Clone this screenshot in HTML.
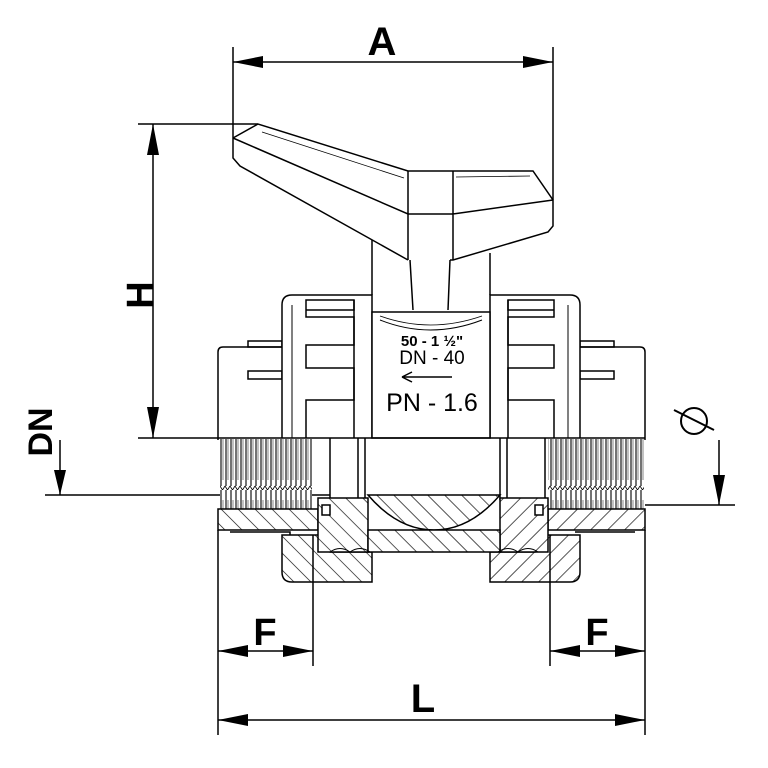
<!DOCTYPE html>
<html><head><meta charset="utf-8"><style>
html,body{margin:0;padding:0;background:#fff}
svg{display:block}
text{font-family:"Liberation Sans",sans-serif}
</style></head><body>
<svg width="768" height="768" viewBox="0 0 768 768" xmlns="http://www.w3.org/2000/svg">
<defs>
<pattern id="h" patternUnits="userSpaceOnUse" width="12" height="12" patternTransform="rotate(45)">
<rect width="12" height="12" fill="#fff"/><line x1="0" y1="0" x2="0" y2="12" stroke="#000" stroke-width="1.3"/>
</pattern>
<pattern id="h2" patternUnits="userSpaceOnUse" width="12" height="12" patternTransform="rotate(-45)">
<rect width="12" height="12" fill="#fff"/><line x1="0" y1="0" x2="0" y2="12" stroke="#000" stroke-width="1.3"/>
</pattern>
<pattern id="t" patternUnits="userSpaceOnUse" width="5" height="70">
<rect width="5" height="70" fill="#fff"/><line x1="1" y1="0" x2="1" y2="66" stroke="#000" stroke-width="1.1"/><line x1="3" y1="10" x2="3" y2="60" stroke="#666" stroke-width="0.8"/><path d="M0 66 L2.5 70 L5 66" stroke="#000" stroke-width="0.8" fill="none"/>
</pattern>
</defs>
<g fill="none" stroke="#000" stroke-width="1.5">
<!-- handle -->
<path d="M233 138 L258 124 L408 171 L533 171 L553 200 L553 226 L548 232 L453 260 L450 260 M233 138 L233 158 L240 166 L408 260" fill="#fff"/>
<path d="M233 138 L408 214 L453 214 L553 200 M408 171 L408 260 M453 171 L453 260"/>
<path d="M372 240 L372 295 M490 253 L490 295 M410 260 L413 310 M450 260 L448 310"/>
<path d="M262 132 L404 178 M456 177 L530 176" stroke-width="0.8"/>
<!-- unions -->
<path d="M218 440 L218 352 Q218 347 223 347 L282 347" fill="#fff"/>
<path d="M645 440 L645 352 Q645 347 640 347 L580 347" fill="#fff"/>
<rect x="248" y="341" width="34" height="6"/><rect x="248" y="371" width="34" height="8"/>
<rect x="580" y="341" width="34" height="6"/><rect x="580" y="371" width="34" height="8"/>
<!-- nuts -->
<path d="M282 438 L282 305 Q282 295 292 295 L372 295 L372 438" fill="#fff"/>
<path d="M490 438 L490 295 L570 295 Q580 295 580 305 L580 438" fill="#fff"/>
<path d="M292 438 L292 305 M568 438 L568 305" stroke-width="1"/>
<path d="M306 300 L354 300 L354 310 L306 310 Z M306 310 L306 317 L354 317 L354 345 L306 345 L306 368 L354 368 L354 400 L306 400 L306 438" fill="#fff"/>
<path d="M354 300 L354 438 M508 300 L508 438"/>
<path d="M554 300 L508 300 L508 310 L554 310 Z M554 310 L554 317 L508 317 L508 345 L554 345 L554 368 L508 368 L508 400 L554 400 L554 438"/>
<!-- center body -->
<path d="M372 312 L490 312 L490 438 L372 438 Z" fill="#fff"/>
<path d="M380 320 Q430 340 482 320" stroke-width="1"/>
<path d="M380 316 Q430 334 482 316" stroke-width="0.8"/>
<!-- horizontal lines -->
<path d="M138 438 L645 438"/>
<path d="M45 495 L330 495 M645 505 L735 505"/>
<!-- threads -->
<rect x="220" y="439" width="92" height="70" fill="url(#t)" stroke="none"/>
<rect x="548" y="439" width="96" height="70" fill="url(#t)" stroke="none"/>
<path d="M358 438 L358 500 M365 438 L365 500 M500 438 L500 500 M507 438 L507 500 M330 438 L330 500 M545 438 L545 500"/>
<!-- hatched walls -->
<path d="M218 509 L318 509 L318 530 L218 530 Z" fill="url(#h2)"/>
<path d="M548 509 L645 509 L645 530 L548 530 Z" fill="url(#h)"/>
<path d="M218 530 L218 735 M645 530 L645 735"/>
<path d="M230 532 L290 532 L290 535 M575 532 L635 532"/>
<!-- lower nuts -->
<path d="M282 535 L318 535 L330 552 L372 552 L372 582 L292 582 Q282 582 282 572 Z" fill="url(#h2)"/>
<path d="M490 552 L535 552 L548 535 L580 535 L580 572 Q580 582 570 582 L490 582 Z" fill="url(#h)"/>
<!-- seats & ball -->
<path d="M318 498 L368 498 L368 552 L318 552 Z" fill="url(#h2)"/>
<path d="M500 498 L548 498 L548 552 L500 552 Z" fill="url(#h)"/>
<path d="M368 495 L500 495 Q470 530 434 530 Q398 530 368 495 Z" fill="url(#h2)"/>
<path d="M368 530 L500 530 L500 552 L368 552 Z" fill="url(#h2)"/>
<path d="M330 552 Q340 545 350 552 Q360 545 370 552 M498 552 Q508 545 518 552 Q528 545 538 552" stroke-width="1"/>
<rect x="322" y="505" width="8" height="10" fill="#fff"/><rect x="535" y="505" width="8" height="10" fill="#fff"/>
<!-- dimension lines -->
<path d="M233 47 L233 138 M553 47 L553 200"/>
<path d="M233 62 L553 62"/>
<path d="M138 124 L258 124"/>
<path d="M153 124 L153 438"/>
<path d="M60 440 L60 495"/>
<path d="M719 440 L719 505"/>
<path d="M313 535 L313 666 M550 535 L550 666"/>
<path d="M218 651 L313 651 M550 651 L645 651"/>
<path d="M218 720 L645 720"/>
<circle cx="694" cy="421" r="13" stroke-width="2"/>
<path d="M674 410 L714 430" stroke-width="2"/>
</g>
<g fill="#000">
<path d="M233 62 L263 56 L263 68 Z M553 62 L523 56 L523 68 Z"/>
<path d="M153 124 L147 155 L159 155 Z M153 438 L147 407 L159 407 Z"/>
<path d="M60 495 L54 470 L66 470 Z M719 505 L713 475 L725 475 Z"/>
<path d="M218 651 L248 645 L248 657 Z M313 651 L283 645 L283 657 Z M550 651 L580 645 L580 657 Z M645 651 L615 645 L615 657 Z"/>
<path d="M218 720 L248 714 L248 726 Z M645 720 L615 714 L615 726 Z"/>
</g>
<g font-weight="bold" font-size="40" text-anchor="middle">
<text x="382" y="55">A</text>
<text x="265" y="645" font-size="38">F</text>
<text x="597" y="645" font-size="38">F</text>
<text x="423" y="712">L</text>
<text transform="translate(153,295) rotate(-90)" font-size="38">H</text>
<text transform="translate(52,432) rotate(-90)" font-size="34">DN</text>
</g>
<g text-anchor="middle">
<text x="432" y="346" font-size="15" font-weight="bold">50 - 1 ½"</text>
<text x="432" y="364" font-size="19">DN - 40</text>
<text x="432" y="411" font-size="25">PN - 1.6</text>
</g>
<path d="M402 377 L452 377 M402 377 L412 372 M402 377 L412 382" stroke="#000" stroke-width="1.5" fill="none"/>
</svg>
</body></html>
